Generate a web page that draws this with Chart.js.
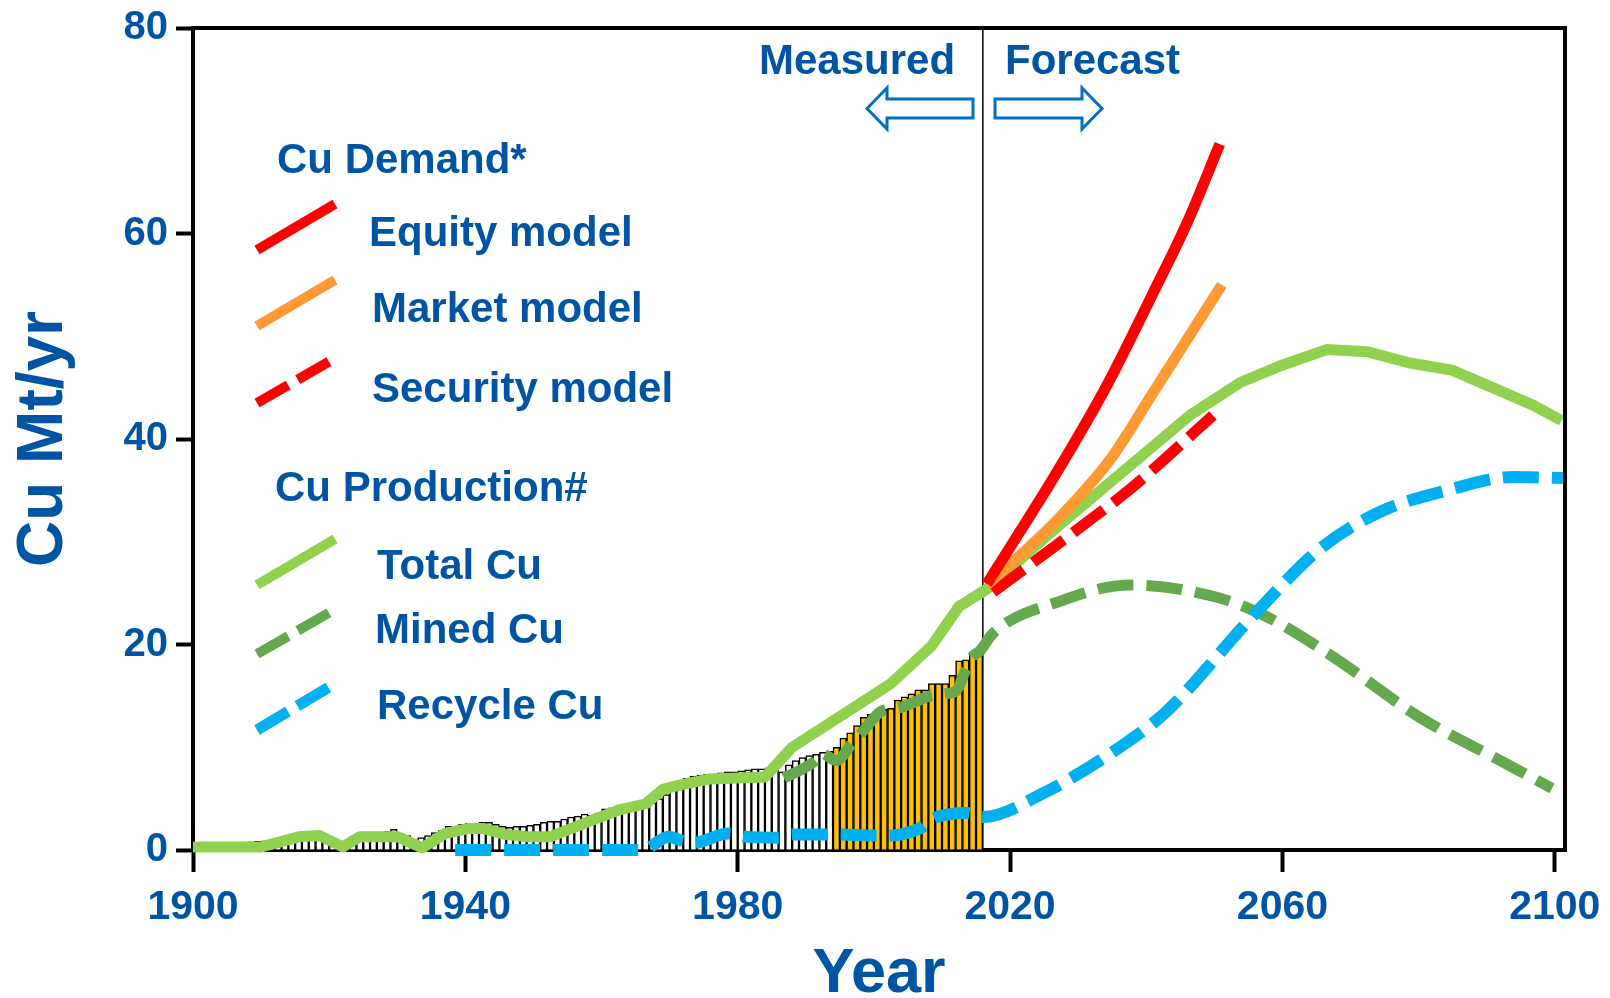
<!DOCTYPE html>
<html>
<head>
<meta charset="utf-8">
<script src="https://cdn.jsdelivr.net/npm/chart.js@4.4.1/dist/chart.umd.min.js"></script>
<style>
html,body{margin:0;padding:0;background:#fff;}
#wrap{position:relative;width:1610px;height:998px;overflow:hidden;}
#c{position:absolute;left:0;top:0;}
#ov{position:absolute;left:0;top:0;pointer-events:none;}
#ov text{font-family:"Liberation Sans",Arial,sans-serif;font-weight:bold;fill:#0054A4;font-size:42px;}
</style>
</head>
<body>
<div id="wrap">
<canvas id="c" width="1610" height="998"></canvas>
<svg id="ov" width="1610" height="998" xmlns="http://www.w3.org/2000/svg">
  <text x="759" y="74">Measured</text>
  <text x="1005" y="74">Forecast</text>
  <polygon points="867,108.5 887,88 887,99 973,99 973,118 887,118 887,129" fill="#fff" stroke="#0070C0" stroke-width="3"/>
  <polygon points="995,99 1082,99 1082,88 1102,108.5 1082,129 1082,118 995,118" fill="#fff" stroke="#0070C0" stroke-width="3"/>

  <text x="277" y="173">Cu Demand*</text>
  <line x1="257" y1="250" x2="335" y2="204" stroke="#FF0000" stroke-width="10"/>
  <text x="369" y="246">Equity model</text>
  <line x1="257" y1="326" x2="335" y2="280" stroke="#FF9933" stroke-width="10"/>
  <text x="372" y="322">Market model</text>
  <line x1="257" y1="403" x2="330" y2="361" stroke="#FF0000" stroke-width="10" stroke-dasharray="36 11"/>
  <text x="372" y="402">Security model</text>

  <text x="275" y="501">Cu Production#</text>
  <line x1="257" y1="585" x2="335" y2="539" stroke="#92D050" stroke-width="10"/>
  <text x="377" y="579">Total Cu</text>
  <line x1="257" y1="654" x2="332" y2="611" stroke="#66A84F" stroke-width="10" stroke-dasharray="36 11"/>
  <text x="375" y="643">Mined Cu</text>
  <line x1="257" y1="730" x2="331" y2="686" stroke="#00B0F0" stroke-width="11" stroke-dasharray="36 11"/>
  <text x="377" y="719">Recycle Cu</text>
</svg>
</div>
<script>
// ---------- DATA ----------
// Annual measured Cu production (bars), one bar per year
const productionYears = [
  1900,1901,1902,1903,1904,1905,1906,1907,1908,1909,
  1910,1911,1912,1913,1914,1915,1916,1917,1918,1919,
  1920,1921,1922,1923,1924,1925,1926,1927,1928,1929,
  1930,1931,1932,1933,1934,1935,1936,1937,1938,1939,
  1940,1941,1942,1943,1944,1945,1946,1947,1948,1949,
  1950,1951,1952,1953,1954,1955,1956,1957,1958,1959,
  1960,1961,1962,1963,1964,1965,1966,1967,1968,1969,
  1970,1971,1972,1973,1974,1975,1976,1977,1978,1979,
  1980,1981,1982,1983,1984,1985,1986,1987,1988,1989,
  1990,1991,1992,1993,1994,1995,1996,1997,1998,1999,
  2000,2001,2002,2003,2004,2005,2006,2007,2008,2009,
  2010,2011,2012,2013,2014,2015
];
const productionValues = [
  0.5,0.55,0.6,0.6,0.65,0.7,0.75,0.75,0.8,0.85,
  0.9,0.95,1.0,1.0,1.0,1.1,1.4,1.5,1.5,1.1,
  1.0,0.6,0.9,1.3,1.4,1.5,1.5,1.6,1.8,2.0,
  1.6,1.4,1.0,1.2,1.4,1.7,1.9,2.3,2.1,2.5,
  2.6,2.6,2.7,2.7,2.5,2.3,2.2,2.3,2.3,2.4,
  2.5,2.7,2.8,2.8,3.0,3.2,3.3,3.5,3.4,3.6,
  4.0,4.1,4.3,4.4,4.6,4.7,4.8,4.6,5.0,5.4,
  5.8,6.5,7.0,7.2,7.3,7.4,7.4,7.5,7.6,7.6,
  7.7,7.8,7.9,7.9,8.0,8.1,7.6,8.3,8.7,9.0,
  9.2,9.3,9.5,9.6,10.0,10.9,11.4,12.1,12.9,13.2,
  13.5,13.7,13.8,14.6,14.9,15.2,15.6,15.6,16.2,16.2,
  16.2,17.0,18.4,18.5,19.1,18.9
];
const highlightFromYear = 1994;   // bars from this year drawn yellow
const forecastStartYear = 2016;   // Measured | Forecast boundary

// Cu Demand (forecast)
const equityYears   = [2016.6, 2026.9, 2034.2, 2041.0, 2046.1, 2050.8];
const equityValues  = [25.9, 36.8, 45.2, 54.2, 61.2, 68.7];
const marketYears   = [2016.6, 2026.6, 2034.7, 2041.0, 2051.1];
const marketValues  = [25.8, 31.9, 38.0, 44.5, 55.0];
const securityYears = [2017.5, 2031.3, 2037.6, 2049.8];
const securityValues= [25.1, 31.9, 35.1, 42.3];

// Cu Production
const totalYears  = [1900,1910,1915.7,1918.6,1922,1924.5,1930,1933.7,1937,1940.5,1942.6,1946,1949,1952.5,1956,1959,1962.6,1966.5,1969,1971.3,1975.7,1984,1988,2002.5,2008.4,2012.5,2016.6,2026.3,2046.4,2053.8,2059.6,2066.5,2072.4,2078.7,2084.9,2096.8,2101];
const totalValues = [0.3,0.3,1.3,1.4,0.3,1.3,1.3,0.2,1.6,2.1,2.1,1.5,1.3,1.3,2.2,3.0,3.9,4.5,5.9,6.3,6.9,7.1,10.0,16.2,19.8,23.7,25.4,31.1,42.3,45.5,47.1,48.7,48.5,47.4,46.7,43.3,41.8];

const minedYears  = [1986.8,1991.4,1992.3,1994.5,1996.7,1998.2,2001.1,2003.6,2008.3,2010.5,2012.1,2013.4,2014.3,2015.6,2017.5,2027.3,2037.6,2049.8,2057.1,2067,2080.2,2092,2099.6];
const minedValues = [7.0,8.7,9.4,8.7,10.3,11.4,13.5,13.8,15.0,15.2,15.5,17.4,18.7,19.4,21.1,24.2,25.8,24.7,22.9,19.0,12.9,8.7,6.0];

const recycleYears  = [1938.5,1966,1969.9,1971.3,1973.5,1978.7,1981,1986,1988,1995,2000,2002,2007,2008.5,2013.8,2016,2024.8,2037.2,2043,2055.7,2065.5,2074.3,2084.2,2093.9,2101.2];
const recycleValues = [0,0,1.3,1.0,0.7,1.6,1.3,1.2,1.5,1.5,1.4,1.4,2.2,3.0,3.6,3.2,5.5,10.5,13.5,22.8,29.3,32.9,35.0,36.3,36.2];

const xTickYears  = [1900,1940,1980,2020,2060,2100];
const yTickValues = [0,20,40,60,80];

// ---------- STYLE ----------
const TEXT_BLUE = '#0054A4';
const FONT = '"Liberation Sans", Arial, sans-serif';
Chart.defaults.font.family = FONT;

function pts(xs, ys) { return xs.map((x, i) => ({x: x, y: ys[i]})); }

const lineBase = {type: 'line', pointRadius: 0, pointHoverRadius: 0, borderCapStyle: 'butt', borderJoinStyle: 'round', clip: false, fill: false};

const framePlugin = {
  id: 'frame',
  beforeDatasetsDraw(chart) {
    const {ctx, chartArea: a, scales: {x}} = chart;
    const bx = x.getPixelForValue(forecastStartYear);
    ctx.save();
    ctx.strokeStyle = '#000';
    ctx.lineWidth = 1.5;
    ctx.beginPath(); ctx.moveTo(bx, a.top); ctx.lineTo(bx, a.bottom); ctx.stroke();
    ctx.restore();
  },
  afterDraw(chart) {
    const {ctx, chartArea: a} = chart;
    ctx.save();
    ctx.strokeStyle = '#000';
    ctx.lineWidth = 4;
    ctx.beginPath();
    ctx.moveTo(a.left, a.top); ctx.lineTo(a.right, a.top); ctx.lineTo(a.right, a.bottom + 2);
    ctx.stroke();
    ctx.restore();
  }
};

new Chart(document.getElementById('c'), {
  type: 'line',
  data: {
    datasets: [
      Object.assign({}, lineBase, {label: 'Equity model', data: pts(equityYears, equityValues), borderColor: '#FF0000', borderWidth: 11, cubicInterpolationMode: 'monotone', order: 1}),
      Object.assign({}, lineBase, {label: 'Market model', data: pts(marketYears, marketValues), borderColor: '#FF9933', borderWidth: 11, cubicInterpolationMode: 'monotone', order: 2}),
      Object.assign({}, lineBase, {label: 'Security model', data: pts(securityYears, securityValues), borderColor: '#FF0000', borderWidth: 11, borderDash: [38, 12], cubicInterpolationMode: 'monotone', order: 3}),
      Object.assign({}, lineBase, {label: 'Total Cu', data: pts(totalYears, totalValues), borderColor: '#92D050', borderWidth: 11, tension: 0, order: 4}),
      Object.assign({}, lineBase, {label: 'Recycle Cu', data: pts(recycleYears, recycleValues), borderColor: '#00B0F0', borderWidth: 12, borderDash: [36, 13], cubicInterpolationMode: 'monotone', order: 5}),
      Object.assign({}, lineBase, {label: 'Mined Cu', data: pts(minedYears, minedValues), borderColor: '#66A84F', borderWidth: 11, borderDash: [36, 13], cubicInterpolationMode: 'monotone', order: 6}),
      {
        type: 'bar', label: 'Measured production',
        data: productionYears.map((yr, i) => ({x: yr + 0.5, y: productionValues[i]})),
        backgroundColor: productionYears.map(yr => yr >= highlightFromYear ? '#FFC000' : '#FFFFFF'),
        borderColor: '#000000', borderWidth: 1.5,
        barPercentage: 1, categoryPercentage: 1, order: 7
      }
    ]
  },
  options: {
    responsive: false, animation: false, devicePixelRatio: 1,
    layout: {padding: {top: 23, right: 45, left: 0, bottom: 0}},
    plugins: {legend: {display: false}, tooltip: {enabled: false}},
    scales: {
      x: {
        type: 'linear', min: 1900, max: 2101.5, offset: false,
        afterBuildTicks: s => { s.ticks = xTickYears.map(v => ({value: v})); },
        afterFit: s => { s.height = 148; },
        grid: {display: true, drawOnChartArea: false, drawTicks: true, tickLength: 22, tickWidth: 4, tickColor: '#000', offset: false},
        border: {display: true, color: '#000', width: 4},
        ticks: {autoSkip: false, maxRotation: 0, padding: 8, color: TEXT_BLUE, font: {size: 41, weight: 'bold', lineHeight: 1.35}, callback: v => String(v)},
        title: {display: true, text: 'Year', color: TEXT_BLUE, font: {size: 63, weight: 'bold', lineHeight: 0.75}, padding: 0}
      },
      y: {
        type: 'linear', min: 0, max: 80,
        afterBuildTicks: s => { s.ticks = yTickValues.map(v => ({value: v})); },
        afterFit: s => { s.width = 193; },
        grid: {display: true, drawOnChartArea: false, drawTicks: true, tickLength: 17, tickWidth: 4, tickColor: '#000'},
        border: {display: true, color: '#000', width: 4},
        ticks: {padding: 8, color: TEXT_BLUE, font: {size: 40, weight: 'bold', lineHeight: 1}, callback: v => String(v)},
        title: {display: true, text: 'Cu Mt/yr', color: TEXT_BLUE, font: {size: 64, weight: 'bold', lineHeight: 1.2}, padding: {top: 6, bottom: 0}}
      }
    }
  },
  plugins: [framePlugin]
});
</script>
</body>
</html>
